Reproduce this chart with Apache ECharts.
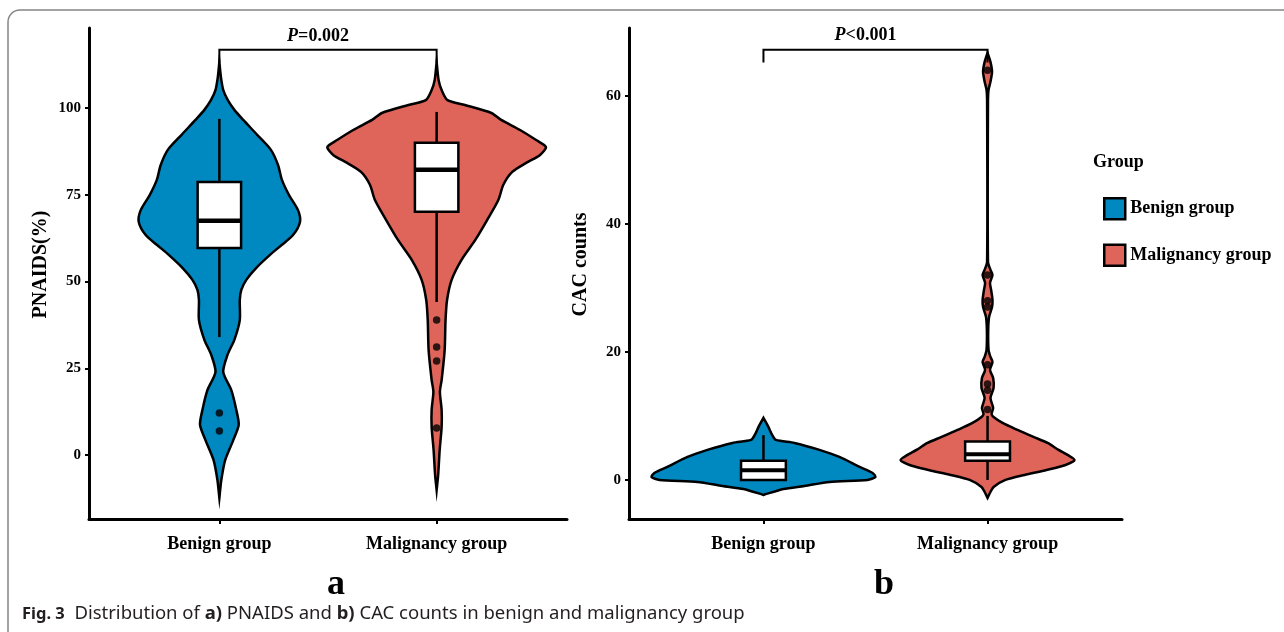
<!DOCTYPE html>
<html>
<head>
<meta charset="utf-8">
<title>Fig. 3</title>
<script src="https://cdn.jsdelivr.net/npm/echarts@6.0.0/dist/echarts.min.js"></script>
<style>
  html, body { margin: 0; padding: 0; background: #fff; }
  #chart { width: 1284px; height: 632px; }
</style>
</head>
<body>
<div id="chart"></div>
<script>
var categories = ['Benign group', 'Malignancy group'];
var pnaidsTicks = [0, 25, 50, 75, 100];
var cacTicks = [0, 20, 40, 60];

// violin outlines: [value, half width in group units]
var pnaidsBenignViolin = [
  [113.3, 0], [109.0, 0.007], [105.2, 0.018], [102.3, 0.039], [99.5, 0.069], [96.6, 0.110],
  [92.3, 0.174], [87.9, 0.238], [83.6, 0.270], [79.3, 0.288], [75.0, 0.320], [70.6, 0.362],
  [67.2, 0.371], [63.4, 0.339], [60.6, 0.288], [57.7, 0.233], [53.9, 0.169], [50.5, 0.124],
  [47.6, 0.101], [44.7, 0.094], [38.9, 0.094], [33.2, 0.069], [28.8, 0.037], [23.9, 0.018],
  [18.7, 0.055], [13.0, 0.078], [8.7, 0.089], [4.3, 0.064], [-1.4, 0.027], [-7.2, 0.009], [-12.4, 0]
];
var pnaidsMalignViolin = [
  [113.3, 0], [108.1, 0.009], [105.2, 0.023], [102.3, 0.050], [100.9, 0.130], [98.6, 0.252],
  [96.6, 0.297], [93.7, 0.384], [90.8, 0.458], [88.8, 0.503], [86.5, 0.476], [84.2, 0.412],
  [81.6, 0.348], [77.9, 0.307], [73.5, 0.284], [67.8, 0.233], [62.0, 0.178], [56.2, 0.114],
  [50.5, 0.069], [44.7, 0.048], [38.9, 0.041], [30.3, 0.037], [21.6, 0.023], [18.2, 0.015],
  [13.0, 0.023], [8.1, 0.023], [1.4, 0.014], [-5.8, 0.007], [-10.1, 0]
];
var cacBenignViolin = [
  [9.69, 0], [8.28, 0.022], [7.03, 0.039], [6.25, 0.056], [5.78, 0.138], [4.69, 0.250],
  [3.59, 0.339], [2.03, 0.429], [1.09, 0.487], [0.47, 0.500], [0, 0.464], [-0.31, 0.295],
  [-0.94, 0.183], [-1.41, 0.089], [-2.34, 0]
];
var cacMalignViolin = [
  [66.72, 0], [65.31, 0.013], [63.75, 0.020], [62.19, 0.013], [60.94, 0.0045], [59.4, 0.002],
  [34.1, 0.002], [32.81, 0.013], [32.03, 0.022], [30.78, 0.011], [29.69, 0.016], [28.13, 0.022],
  [27.03, 0.020], [25.47, 0.007], [23.44, 0.003], [20.31, 0.0045], [19.22, 0.013], [18.44, 0.022],
  [17.19, 0.011], [15.94, 0.025], [14.38, 0.027], [12.81, 0.013], [11.25, 0.025], [10.31, 0.018],
  [9.84, 0.027], [8.91, 0.067], [7.81, 0.134], [6.72, 0.205], [5.78, 0.268], [4.69, 0.317],
  [3.91, 0.357], [3.13, 0.388], [2.34, 0.348], [1.56, 0.263], [0.78, 0.165], [0, 0.080],
  [-1.09, 0.027], [-1.88, 0.013], [-2.81, 0]
];

// box stats: [group, lower whisker, Q1, median, Q3, upper whisker]
var pnaidsBoxes = [[1, 34.0, 59.7, 67.5, 78.7, 96.9], [2, 44.1, 70.1, 82.2, 90.0, 98.9]];
var cacBoxes = [[1, 0, 0, 1.5, 3, 7], [2, 0, 3, 4, 6, 10]];

var pnaidsOutliers = [[1, 12.1], [1, 6.9], [2, 38.9], [2, 31.1], [2, 27.1], [2, 7.8]];
var cacOutliers = [[2, 11], [2, 14], [2, 15], [2, 18], [2, 27], [2, 28], [2, 32], [2, 64]];

// significance brackets: [from group, to group, height, tip length]
var pnaidsTest = [1, 2, 116.8, 3.75];
var cacTest = [1, 2, 67.2, 2.0];
var pnaidsP = '=0.002';
var cacP = '<0.001';

var BLUE = '#0089c1';
var RED = '#df6459';
var SERIF = '"Liberation Serif", "Times New Roman", serif';
var SANS = '"Noto Sans", sans-serif';

function xAxisFor(gi) {
  return {
    type: 'value', gridIndex: gi, min: 0.4, max: 2.6,
    splitLine: { show: false },
    axisLine: { onZero: false, lineStyle: { color: '#000', width: 3 } },
    axisTick: { customValues: [1, 2], length: 5, lineStyle: { color: '#000', width: 2 } },
    axisLabel: {
      customValues: [1, 2],
      formatter: function (v) { return categories[Math.round(v) - 1]; },
      margin: 16, color: '#000', fontFamily: SERIF, fontWeight: 'bold', fontSize: 18
    }
  };
}

function yAxisFor(gi, name, min, max, ticks) {
  return {
    type: 'value', gridIndex: gi, min: min, max: max,
    name: name, nameLocation: 'middle', nameGap: 38,
    nameTextStyle: {
      color: '#000', fontFamily: SERIF, fontWeight: 'bold', fontSize: 20,
      padding: [0, 0, 0, 18]
    },
    splitLine: { show: false },
    axisLine: { show: true, onZero: false, lineStyle: { color: '#000', width: 3 } },
    axisTick: { show: true, customValues: ticks, length: 4, lineStyle: { color: '#000', width: 2 } },
    axisLabel: {
      customValues: ticks, margin: 8,
      color: '#000', fontFamily: SERIF, fontWeight: 'bold', fontSize: 15
    }
  };
}

function violin(name, profile, group, gi, color) {
  return {
    type: 'custom', name: name, xAxisIndex: gi, yAxisIndex: gi,
    itemStyle: { color: color },
    data: [[group, profile[0][0]]],
    encode: { x: 0, y: 1 },
    renderItem: function (params, api) {
      var c = api.value(0);
      var right = profile.map(function (p) { return api.coord([c + p[1], p[0]]); });
      var left = profile.slice().reverse().map(function (p) { return api.coord([c - p[1], p[0]]); });
      return {
        type: 'polygon',
        shape: { points: right.concat(left), smooth: 0.25 },
        style: { fill: color, stroke: '#000', lineWidth: 2.5 }
      };
    }
  };
}

function boxes(data, gi, medianWidth) {
  return {
    type: 'custom', xAxisIndex: gi, yAxisIndex: gi, z: 3,
    data: data,
    encode: { x: 0, y: [1, 2, 3, 4, 5] },
    renderItem: function (params, api) {
      var x = api.value(0);
      var lo = api.coord([x, api.value(1)]);
      var q1 = api.coord([x, api.value(2)]);
      var med = api.coord([x, api.value(3)]);
      var q3 = api.coord([x, api.value(4)]);
      var hi = api.coord([x, api.value(5)]);
      var l = api.coord([x - 0.1, 0])[0];
      var r = api.coord([x + 0.1, 0])[0];
      var line = { stroke: '#000', lineWidth: 2.5 };
      return {
        type: 'group',
        children: [
          { type: 'line', shape: { x1: lo[0], y1: lo[1], x2: q1[0], y2: q1[1] }, style: line },
          { type: 'line', shape: { x1: q3[0], y1: q3[1], x2: hi[0], y2: hi[1] }, style: line },
          { type: 'rect', shape: { x: l, y: q3[1], width: r - l, height: q1[1] - q3[1] },
            style: { fill: '#fff', stroke: '#000', lineWidth: 2.5 } },
          { type: 'line', shape: { x1: l, y1: med[1], x2: r, y2: med[1] },
            style: { stroke: '#000', lineWidth: medianWidth } }
        ]
      };
    }
  };
}

function outliers(data, gi) {
  return {
    type: 'scatter', xAxisIndex: gi, yAxisIndex: gi, z: 4,
    data: data, symbolSize: 7.5, itemStyle: { color: '#000' }
  };
}

function bracket(test, pText, gi) {
  return {
    type: 'custom', xAxisIndex: gi, yAxisIndex: gi, z: 5,
    data: [test],
    encode: { x: [0, 1], y: 2 },
    renderItem: function (params, api) {
      var x1 = api.value(0), x2 = api.value(1), y = api.value(2), tip = api.value(3);
      var a = api.coord([x1, y - tip]), b = api.coord([x1, y]);
      var c = api.coord([x2, y]), d = api.coord([x2, y - tip]);
      var mid = api.coord([(x1 + x2) / 2, y]);
      return {
        type: 'group',
        children: [
          { type: 'polyline', shape: { points: [a, b, c, d] },
            style: { fill: 'none', stroke: '#000', lineWidth: 2 } },
          { type: 'text', x: mid[0] - 10, y: mid[1] - 14,
            style: {
              text: '{it|P}{n|' + pText + '}', align: 'center', verticalAlign: 'middle',
              rich: {
                it: { fontFamily: SERIF, fontSize: 18, fontWeight: 'bold', fontStyle: 'italic', fill: '#000' },
                n: { fontFamily: SERIF, fontSize: 18, fontWeight: 'bold', fill: '#000' }
              }
            } }
        ]
      };
    }
  };
}

var chart = echarts.init(document.getElementById('chart'));
chart.setOption({
  animation: false,
  backgroundColor: '#fff',
  grid: [
    { left: 89, right: 717, top: 28, bottom: 113 },
    { left: 629, right: 162, top: 28, bottom: 113 }
  ],
  xAxis: [xAxisFor(0), xAxisFor(1)],
  yAxis: [
    yAxisFor(0, 'PNAIDS(%)', -18.45, 123.1, pnaidsTicks),
    yAxisFor(1, 'CAC counts', -6.1, 70.6, cacTicks)
  ],
  legend: {
    data: categories, orient: 'vertical', left: 1103, top: 197, padding: 0,
    itemWidth: 21, itemHeight: 21, itemGap: 23, icon: 'rect', selectedMode: false,
    itemStyle: { borderColor: '#000', borderWidth: 2.5 },
    textStyle: { color: '#000', fontFamily: SERIF, fontWeight: 'bold', fontSize: 18 }
  },
  graphic: [
    { type: 'rect', shape: { x: 8, y: 10, width: 1400, height: 700, r: 12 },
      style: { fill: 'none', stroke: '#858585', lineWidth: 1.5 }, silent: true },
    { type: 'text', x: 1093, y: 162,
      style: { text: 'Group', verticalAlign: 'middle', font: 'bold 18px ' + SERIF, fill: '#000' } },
    { type: 'text', x: 336, y: 585,
      style: { text: 'a', align: 'center', verticalAlign: 'middle', font: 'bold 36px ' + SERIF, fill: '#000' } },
    { type: 'text', x: 884, y: 585,
      style: { text: 'b', align: 'center', verticalAlign: 'middle', font: 'bold 36px ' + SERIF, fill: '#000' } },
    { type: 'text', x: 22, y: 614,
      style: {
        text: '{f|Fig. 3}  Distribution of {b|a)} PNAIDS and {b|b)} CAC counts in benign and malignancy group',
        verticalAlign: 'middle', fontFamily: SANS, fontSize: 18.5, fill: '#231f20',
        rich: {
          f: { fontFamily: SANS, fontSize: 16.5, fontWeight: 'bold', fill: '#231f20' },
          b: { fontFamily: SANS, fontSize: 18.5, fontWeight: 'bold', fill: '#231f20' }
        }
      } }
  ],
  series: [
    violin('Benign group', pnaidsBenignViolin, 1, 0, BLUE),
    violin('Malignancy group', pnaidsMalignViolin, 2, 0, RED),
    violin('Benign group', cacBenignViolin, 1, 1, BLUE),
    violin('Malignancy group', cacMalignViolin, 2, 1, RED),
    boxes(pnaidsBoxes, 0, 4.5),
    boxes(cacBoxes, 1, 4),
    outliers(pnaidsOutliers, 0),
    outliers(cacOutliers, 1),
    bracket(pnaidsTest, pnaidsP, 0),
    bracket(cacTest, cacP, 1)
  ]
});
</script>
</body>
</html>
